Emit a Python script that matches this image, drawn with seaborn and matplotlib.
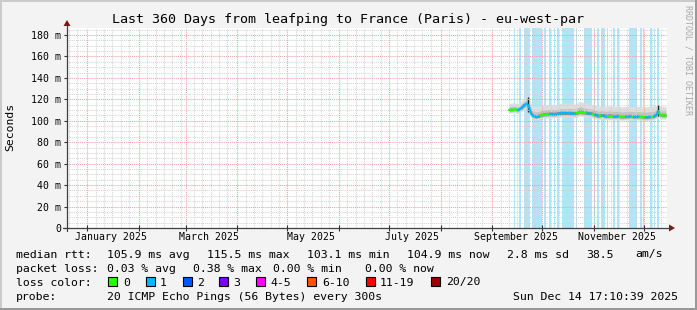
import numpy as np
import pandas as pd
import matplotlib
matplotlib.use("Agg")
import matplotlib.pyplot as plt
import matplotlib.dates as mdates
from matplotlib.patches import Rectangle, Polygon
from matplotlib.lines import Line2D
from matplotlib.ticker import MultipleLocator, NullFormatter
import seaborn as sns

# ---------------- data ----------------
range_start = pd.Timestamp("2024-12-19 17:10:39")
range_end = pd.Timestamp("2025-12-14 17:10:39")
data_base = pd.Timestamp("2025-09-01 00:00:00")

# days after 2025-09-01 for each median sample
day_offset = [9.9, 11.7, 13.5, 15.3, 16.5, 17.7, 18.9, 20.1, 20.7, 21.9, 23.1, 24.3,
              26.1, 27.9, 29.7, 32.1, 34.5, 37.5, 40.5, 43.5, 46.5, 49.5, 51.3, 52.5,
              54.3, 56.7, 59.1, 61.5, 63.3, 65.7, 68.1, 70.5, 72.9, 75.3, 77.7, 80.1,
              82.5, 84.9, 87.3, 89.7, 92.1, 94.5, 96.9, 98.7, 99.3, 100.5, 102.3, 104.1]
median_ms = [110.0, 110.3, 110.5, 110.0, 111.0, 112.5, 114.5, 115.5, 116.0, 113.0, 107.0, 104.5,
             103.5, 104.0, 105.5, 105.8, 106.2, 106.0, 106.8, 106.8, 106.8, 106.5, 107.5, 108.5,
             107.5, 107.0, 106.5, 105.5, 104.5, 105.0, 104.0, 104.5, 103.8, 104.2, 103.5, 103.8,
             104.0, 103.5, 103.8, 103.5, 103.2, 103.5, 104.0, 106.0, 109.0, 105.5, 105.0, 104.9]
smoke_hi = [116.0, 116.5, 116.5, 116.0, 117.0, 119.0, 121.0, 123.0, 124.0, 121.0, 116.0, 113.5,
            113.0, 113.5, 114.5, 115.0, 115.5, 115.0, 116.0, 116.0, 116.0, 115.5, 117.0, 118.0,
            117.0, 116.0, 115.5, 114.5, 113.5, 114.0, 113.5, 114.0, 113.5, 113.5, 113.0, 113.5,
            113.5, 113.0, 113.5, 113.0, 113.0, 113.5, 113.5, 115.0, 117.0, 114.0, 113.5, 113.5]
smoke_lo = [107.0, 107.5, 107.5, 107.0, 108.0, 109.0, 110.5, 111.0, 111.0, 108.0, 103.0, 101.5,
            101.0, 101.5, 102.5, 102.5, 103.0, 103.0, 103.5, 103.5, 103.5, 103.0, 104.0, 104.5,
            104.0, 103.5, 103.0, 102.0, 101.0, 101.5, 101.0, 101.0, 100.8, 101.0, 100.5, 100.8,
            101.0, 100.5, 100.8, 100.5, 100.3, 100.5, 101.0, 102.5, 104.0, 102.0, 101.5, 101.5]
loss_count = [0, 0, 0, 0, 1, 1, 1, 1, 1, 1, 1, 1,
              1, 1, 0, 0, 0, 1, 1, 1, 1, 1, 0, 0,
              0, 0, 1, 0, 1, 0, 1, 0, 0, 1, 0, 0,
              1, 0, 1, 0, 0, 1, 0, 1, 1, 0, 0, 0]

# full-height light blue stripes (days after 2025-09-01)
stripe_start = [12.9, 16.1, 18.9, 23.9, 31.1, 34.1, 36.9, 38.9, 41.7, 50.1, 55.1, 61.1,
                62.7, 64.9, 68.5, 72.5, 74.9, 82.1, 88.5, 90.5, 94.5, 96.9, 98.5]
stripe_end = [13.5, 16.9, 22.5, 29.5, 32.1, 34.9, 37.5, 40.1, 48.9, 50.5, 59.7, 61.7,
              64.1, 67.7, 69.5, 73.5, 75.7, 86.7, 89.7, 91.1, 95.5, 97.7, 100.1]

# dark smoke spikes
spike_day = [21.3, 99.3]
spike_lo = [108.0, 104.5]
spike_hi = [122.0, 115.0]

y_ticks = [0, 20, 40, 60, 80, 100, 120, 140, 160, 180]
y_tick_labels = ["0", "20 m", "40 m", "60 m", "80 m", "100 m", "120 m", "140 m", "160 m", "180 m"]
month_labels = ["January 2025", "March 2025", "May 2025", "July 2025", "September 2025", "November 2025"]
month_label_dates = ["2025-01-15", "2025-03-15", "2025-05-15", "2025-07-15", "2025-09-15", "2025-11-15"]

loss_names = ["0", "1", "2", "3", "4-5", "6-10", "11-19", "20/20"]
loss_colors = ["#26ff00", "#00b8ff", "#0059ff", "#7e00ff", "#ff00ff", "#ff5500", "#ff0000", "#a00000"]

title = "Last 360 Days from leafping to France (Paris) - eu-west-par"

# ---------------- figure ----------------
sns.set_theme(style="white")
plt.rcParams['font.family'] = ['DejaVu Sans Mono']

W, H = 697, 310
BG = "#f3f3f3"
fig = plt.figure(figsize=(W / 100, H / 100), dpi=100, facecolor=BG)


def fx(px):
    return px / W


def fy(py):
    return 1 - py / H


ax_left, ax_right, ax_top, ax_bottom = 67, 667, 28, 228
ax = fig.add_axes([fx(ax_left), fy(ax_bottom), (ax_right - ax_left) / W, (ax_bottom - ax_top) / H])
ax.set_facecolor("white")

dates = data_base + pd.to_timedelta(day_offset, unit="D")

# stripes
for s, e in zip(stripe_start, stripe_end):
    ax.axvspan(data_base + pd.Timedelta(days=s), data_base + pd.Timedelta(days=e),
               color="#aee6fa", lw=0, zorder=0.5)

# smoke
med = np.array(median_ms)
hi = np.array(smoke_hi)
lo = np.array(smoke_lo)
ax.fill_between(dates, lo, hi, color="#dedede", lw=0, zorder=1)
ax.fill_between(dates, med - 0.6 * (med - lo), med + 0.5 * (hi - med), color="#c2c2c2", lw=0, zorder=1.1)
ax.fill_between(dates, med - 0.3 * (med - lo), med + 0.22 * (hi - med), color="#8c8c8c", lw=0, zorder=1.2)
ax.vlines(data_base + pd.to_timedelta(spike_day, unit="D"), spike_lo, spike_hi, color="#202020", lw=1.0, zorder=1.3)

# median coloured by loss, one segment per pair of samples
rows = []
for i in range(1, len(dates)):
    for j in (i - 1, i):
        rows.append({"date": dates[j], "rtt": median_ms[j], "loss": loss_count[i], "seg": i})
df = pd.DataFrame(rows)
sns.lineplot(data=df, x="date", y="rtt", hue="loss", units="seg", estimator=None,
             palette={0: loss_colors[0], 1: loss_colors[1]}, linewidth=1.6,
             legend=False, ax=ax, zorder=3)

ax.set_xlim(range_start, range_end)
ax.set_ylim(0, 186.5)
ax.set_xlabel("")
ax.set_ylabel("")

# grid / ticks
ax.xaxis.set_major_locator(mdates.MonthLocator())
ax.xaxis.set_minor_locator(mdates.DayLocator(bymonthday=[6, 11, 16, 21, 26]))
ax.xaxis.set_major_formatter(NullFormatter())
ax.xaxis.set_minor_formatter(NullFormatter())
ax.set_yticks(y_ticks)
ax.set_yticklabels(y_tick_labels)
ax.yaxis.set_minor_locator(MultipleLocator(5))
ax.set_axisbelow(False)
ax.grid(which="minor", color="#d4d4d4", linestyle=(0, (1, 1)), linewidth=0.75, zorder=2)
ax.grid(which="major", color="#f2a0a0", linestyle=(0, (1, 1)), linewidth=0.75, zorder=2.1)
for l in ax.get_xgridlines() + ax.get_ygridlines():
    l.set_zorder(2.1)
ax.tick_params(axis="y", which="major", direction="out", length=2, width=0.8, color="#303030",
               labelsize=7.1, labelcolor="black", pad=2.3, left=True)
ax.tick_params(axis="x", which="major", direction="inout", length=4, width=0.8, color="#303030", bottom=True)
ax.tick_params(axis="both", which="minor", length=0)
for sp in ax.spines.values():
    sp.set_visible(False)

for lab, d in zip(month_labels, month_label_dates):
    ax.text(pd.Timestamp(d), -0.0475, lab, transform=ax.get_xaxis_transform(),
            ha="center", va="center", fontsize=7.1, color="black")

# axes lines with arrows
fig.add_artist(Line2D([fx(67), fx(67)], [fy(231), fy(25)], transform=fig.transFigure, color="#404040", lw=0.9))
fig.add_artist(Line2D([fx(63), fx(670)], [fy(228), fy(228)], transform=fig.transFigure, color="#404040", lw=0.9))
fig.add_artist(Polygon([[fx(67), fy(20)], [fx(63.5), fy(26)], [fx(70.5), fy(26)]], closed=True,
                       transform=fig.transFigure, color="#8b1010", lw=0))
fig.add_artist(Polygon([[fx(675), fy(228)], [fx(669), fy(224.5)], [fx(669), fy(231.5)]], closed=True,
                       transform=fig.transFigure, color="#8b1010", lw=0))

# titles
fig.text(0.5, fy(19), title, ha="center", va="center", fontsize=9.6, color="black")
fig.text(fx(10), fy(127), "Seconds", rotation=90, ha="center", va="center", fontsize=8.2, color="black")
fig.text(fx(688), fy(60), "RRDTOOL / TOBI OETIKER", rotation=-90, ha="center", va="center",
         fontsize=6.0, color="#a8a8a8")

# legend block
LF = 8.25
rows_txt = [
    (257.5, [("median rtt:", 16), ("105.9 ms avg", 107), ("115.5 ms max", 207), ("103.1 ms min", 307),
             ("104.9 ms now", 407), ("2.8 ms sd", 507), ("38.5", 586), ("am/s", 635)]),
    (271.5, [("packet loss:", 16), ("0.03 % avg", 107), ("0.38 % max", 193), ("0.00 % min", 273),
             ("0.00 % now", 365)]),
    (285.5, [("loss color:", 16)]),
    (299.5, [("probe:", 16), ("20 ICMP Echo Pings (56 Bytes) every 300s", 107),
             ("Sun Dec 14 17:10:39 2025", 513)]),
]
for yb, items in rows_txt:
    for txt, xp in items:
        fig.text(fx(xp), fy(yb), txt, ha="left", va="baseline", fontsize=LF, color="black")

box_x = [108, 146, 183, 219, 256, 307, 366, 431]
lab_x = [123, 160, 197, 233, 270, 322, 380, 446]
for name, col, bx, lx in zip(loss_names, loss_colors, box_x, lab_x):
    fig.add_artist(Rectangle((fx(bx), fy(286)), 9 / W, 9 / H, transform=fig.transFigure,
                             facecolor=col, edgecolor="black", lw=0.8))
    fig.text(fx(lx), fy(285.5), name, ha="left", va="baseline", fontsize=LF, color="black")

# border bevel
fig.add_artist(Rectangle((0, 1 - 2 / H), 1, 2 / H, transform=fig.transFigure, color="#cbcbcb", lw=0))
fig.add_artist(Rectangle((0, 0), 2 / W, 1, transform=fig.transFigure, color="#cbcbcb", lw=0))
fig.add_artist(Rectangle((0, 0), 1, 2 / H, transform=fig.transFigure, color="#999999", lw=0))
fig.add_artist(Rectangle((1 - 2 / W, 0), 2 / W, 1, transform=fig.transFigure, color="#999999", lw=0))

fig.savefig("out.png", dpi=100, facecolor=BG)
